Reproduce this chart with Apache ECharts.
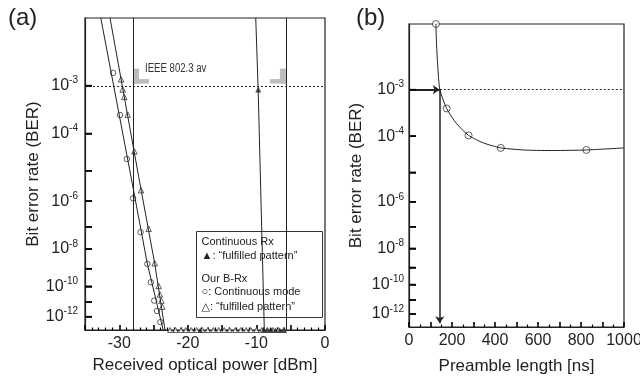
<!DOCTYPE html>
<html>
<head>
<meta charset="utf-8">
<script src="https://cdn.jsdelivr.net/npm/echarts@6/dist/echarts.min.js"></script>
<style>
  html, body { margin: 0; padding: 0; background: #fff; }
  #chart { width: 640px; height: 378px; }
</style>
</head>
<body>
<div id="chart"></div>
<script>
// BER values are kept as log10(BER); error-free points sit on the 1e-13 floor

// (a) our B-Rx, continuous mode (circles)
const contModeDbm = [-30.9, -29.9, -28.9, -28.0, -26.9, -25.9, -25.4, -24.9, -24.5, -24.0];
const contModeLogBer = [-2.78, -3.58, -4.66, -5.90, -7.23, -8.75, -9.76, -10.9, -11.6, -12.4];
const contModeFitDbm = [-32.7, -28.2, -25.9, -23.6];
const contModeFitLogBer = [-2, -5.29, -8.75, -13];

// (a) our B-Rx, "fulfilled pattern" (open triangles)
const fulfilledDbm = [-29.75, -29.5, -29.27, -28.77, -27.8, -26.83, -25.72, -24.84, -24.26, -24.07, -23.87, -23.73];
const fulfilledLogBer = [-2.89, -3.07, -3.21, -3.57, -4.45, -5.62, -7.08, -8.71, -9.98, -10.5, -10.9, -11.3];
const fulfilledFitDbm = [-31.35, -27.08, -24.84, -23.33];
const fulfilledFitLogBer = [-2, -5.29, -8.71, -13];

// (a) continuous Rx, "fulfilled pattern" (filled triangles)
const contRxDbm = [-9.73];
const contRxLogBer = [-3.07];
const contRxFitDbm = [-10.1, -9.75, -8.85];
const contRxFitLogBer = [-2, -3.07, -13];

// (a) error free points
const errorFreeOpenDbm = [-22.6, -21.8, -21.0, -20.3, -19.5, -18.7, -17.9, -17.1, -16.3, -15.5, -14.7,
  -13.9, -13.1, -12.3, -11.5, -10.8, -10.0, -9.2, -8.4, -7.6, -6.8, -6.0];
const errorFreeFilledDbm = [-18.2, -9.0, -8.4, -7.8, -7.2, -6.6, -6.0];
const floorLogBer = -13;

// IEEE 802.3av limits
const ieeeLimitDbm = [-28, -5.7];
const berLimitLog = -3;

// (b) BER vs preamble length
const preambleNs = [125, 175, 277, 427, 825];
const preambleLogBer = [-2.0, -3.37, -3.98, -4.30, -4.355];
const preambleFitNs = [125, 128, 134, 143.5, 175, 221, 277, 346, 427, 549, 673, 826, 1000];
const preambleFitLogBer = [-2.0, -2.26, -2.61, -3.0, -3.37, -3.70, -3.98, -4.17, -4.30, -4.36, -4.37, -4.355, -4.30];
const requiredPreambleNs = 143;

// axis ranges and ticks
const xRangeA = [-35, 0];
const xRangeB = [0, 1000];
const yTickExp = [3, 4, 5, 6, 7, 8, 9, 10, 11, 12];
const yLabelExp = [3, 4, 6, 8, 10, 12];
const xLabelsA = [-30, -20, -10, 0];
const xTicksA = [-35, -30, -25, -20, -15, -10, -5, 0];
const xLabelsB = [0, 200, 400, 600, 800, 1000];

const FONT = '"Liberation Sans", Arial, "DejaVu Sans", sans-serif';
const INK = '#222';

// BER plot scale: log10(-log10(BER))
const yv = v => Math.log10(-v);
const pairs = (xs, ys) => xs.map((x, i) => [x, yv(ys[i])]);

const makeYAxis = (gridIndex, margin, gap) => ({
  type: 'value',
  gridIndex: gridIndex,
  inverse: true,
  min: Math.log10(2),
  max: Math.log10(13),
  name: 'Bit error rate (BER)',
  nameLocation: 'middle',
  nameGap: gap,
  nameTextStyle: {fontSize: 17, fontFamily: FONT, color: INK},
  axisLine: {show: true, onZero: false, lineStyle: {color: INK, width: 1.2}},
  axisTick: {show: true, inside: true, length: 7, lineStyle: {color: '#000', width: 1.5},
    customValues: yTickExp.map(n => Math.log10(n))},
  axisLabel: {
    margin: margin,
    customValues: yLabelExp.map(n => Math.log10(n)),
    formatter: v => '{b|10}{s|-' + Math.round(Math.pow(10, v)) + '}',
    rich: {
      b: {fontSize: 16, lineHeight: 20, fontFamily: FONT, color: INK},
      s: {fontSize: 10, lineHeight: 10, padding: [0, 0, 10, 0], fontFamily: FONT, color: INK}
    }
  },
  splitLine: {show: false}
});

// inward y ticks drawn again through the axis scale, on top of the frame
const yTickSeries = (gridIndex, xMin) => ({
  type: 'custom', xAxisIndex: gridIndex, yAxisIndex: gridIndex, clip: false, silent: true,
  data: yTickExp.map(n => [xMin, yv(-n)]),
  renderItem: (params, api) => {
    let p = api.coord([api.value(0), api.value(1)]);
    return {type: 'line', shape: {x1: p[0], y1: p[1], x2: p[0] + 7, y2: p[1]},
      style: {stroke: '#000', lineWidth: 1.5}};
  },
  z: 10
});

const markerStyle = {color: '#fff', borderColor: INK, borderWidth: 0.9};
const lineStyle = {color: INK, width: 1};

let chart = echarts.init(document.getElementById('chart'), null, {renderer: 'canvas'});
let option = {
  animation: false,
  backgroundColor: '#fff',
  grid: [
    {left: 85, top: 18, width: 240, height: 312, show: true, borderColor: INK, borderWidth: 1.2, outerBoundsMode: 'none'},
    {left: 409, top: 24, width: 215, height: 303, show: true, borderColor: INK, borderWidth: 1.2, outerBoundsMode: 'none'}
  ],
  xAxis: [
    {
      type: 'value', gridIndex: 0, min: xRangeA[0], max: xRangeA[1], interval: 5,
      name: 'Received optical power [dBm]', nameLocation: 'middle', nameGap: 27,
      nameTextStyle: {fontSize: 17, fontFamily: FONT, color: INK},
      axisLine: {show: true, onZero: false, lineStyle: {color: INK, width: 1.2}},
      axisTick: {show: true, inside: true, length: 5, lineStyle: {color: '#000', width: 1.6}, customValues: xTicksA},
      minorTick: {show: true, splitNumber: 5, length: 2.5, lineStyle: {color: '#000', width: 1.2}},
      axisLabel: {margin: 6, fontSize: 16, fontFamily: FONT, color: INK, customValues: xLabelsA,
        formatter: v => String(v)},
      splitLine: {show: false}
    },
    {
      type: 'value', gridIndex: 1, min: xRangeB[0], max: xRangeB[1], interval: 100,
      name: 'Preamble length [ns]', nameLocation: 'middle', nameGap: 31,
      nameTextStyle: {fontSize: 17, fontFamily: FONT, color: INK},
      axisLine: {show: true, onZero: false, lineStyle: {color: INK, width: 1.2}},
      axisTick: {show: true, inside: true, length: 5, lineStyle: {color: '#000', width: 1.6}},
      minorTick: {show: true, splitNumber: 2, length: 2.5, lineStyle: {color: '#000', width: 1.2}},
      axisLabel: {margin: 6, fontSize: 16, fontFamily: FONT, color: INK, customValues: xLabelsB,
        formatter: v => String(v)},
      splitLine: {show: false}
    }
  ],
  yAxis: [makeYAxis(0, 7, 42), makeYAxis(1, 5, 44)],
  series: [
    // ---- (a) ----
    {
      type: 'line', xAxisIndex: 0, yAxisIndex: 0, showSymbol: false, symbol: 'none',
      data: pairs(contModeFitDbm, contModeFitLogBer), lineStyle: lineStyle,
      markLine: {
        silent: true, symbol: 'none', label: {show: false},
        data: [
          ...ieeeLimitDbm.map(x => ({xAxis: x, lineStyle: {color: INK, width: 1, type: 'solid'}})),
          {yAxis: yv(berLimitLog), lineStyle: {color: INK, width: 1, type: [2, 2]}}
        ]
      }
    },
    {type: 'line', xAxisIndex: 0, yAxisIndex: 0, showSymbol: false, symbol: 'none',
      data: pairs(fulfilledFitDbm, fulfilledFitLogBer), lineStyle: lineStyle},
    {type: 'line', xAxisIndex: 0, yAxisIndex: 0, showSymbol: false, symbol: 'none',
      data: pairs(contRxFitDbm, contRxFitLogBer), lineStyle: lineStyle},
    {type: 'scatter', xAxisIndex: 0, yAxisIndex: 0, symbol: 'circle', symbolSize: 5.5,
      data: pairs(contModeDbm, contModeLogBer), itemStyle: markerStyle},
    {type: 'scatter', xAxisIndex: 0, yAxisIndex: 0, symbol: 'triangle', symbolSize: 5.5,
      data: pairs(fulfilledDbm, fulfilledLogBer), itemStyle: markerStyle},
    {type: 'scatter', xAxisIndex: 0, yAxisIndex: 0, symbol: 'triangle', symbolSize: 5, clip: false,
      data: errorFreeOpenDbm.map(x => [x, yv(floorLogBer)]), itemStyle: markerStyle},
    {type: 'scatter', xAxisIndex: 0, yAxisIndex: 0, symbol: 'triangle', symbolSize: 5, clip: false,
      data: errorFreeFilledDbm.map(x => [x, yv(floorLogBer)]), itemStyle: {color: INK}},
    {type: 'scatter', xAxisIndex: 0, yAxisIndex: 0, symbol: 'triangle', symbolSize: 6,
      data: pairs(contRxDbm, contRxLogBer), itemStyle: {color: INK}},
    {
      // IEEE 802.3av sensitivity marks
      type: 'custom', xAxisIndex: 0, yAxisIndex: 0,
      data: ieeeLimitDbm.map((x, i) => [x, yv(berLimitLog), i === 0 ? 1 : -1]),
      renderItem: (params, api) => {
        let p = api.coord([api.value(0), api.value(1)]);
        let d = api.value(2);
        let bx = d > 0 ? p[0] : p[0] - 6;
        let fx = d > 0 ? p[0] : p[0] - 16;
        return {type: 'group', children: [
          {type: 'rect', shape: {x: bx, y: p[1] - 17, width: 6, height: 15}, style: {fill: '#bdbdbd'}},
          {type: 'rect', shape: {x: fx, y: p[1] - 6.5, width: 16, height: 4.5}, style: {fill: '#bdbdbd'}}
        ]};
      },
      z: 1
    },
    yTickSeries(0, xRangeA[0]),
    // ---- (b) ----
    {
      type: 'line', xAxisIndex: 1, yAxisIndex: 1, showSymbol: false, symbol: 'none', smooth: 0.2,
      data: pairs(preambleFitNs, preambleFitLogBer), lineStyle: lineStyle,
      markLine: {
        silent: true, label: {show: false}, symbol: 'none',
        data: [
          [{coord: [0, yv(berLimitLog)], symbol: 'none'},
           {coord: [requiredPreambleNs, yv(berLimitLog)], symbol: 'arrow', symbolSize: 7,
             lineStyle: {color: INK, width: 2, type: 'solid'}}],
          [{coord: [requiredPreambleNs, yv(berLimitLog)], symbol: 'none'},
           {coord: [requiredPreambleNs, yv(-12.7)], symbol: 'arrow', symbolSize: 7,
             lineStyle: {color: INK, width: 1.5, type: 'solid'}}],
          [{coord: [requiredPreambleNs, yv(berLimitLog)], symbol: 'none'},
           {coord: [1000, yv(berLimitLog)], symbol: 'none',
             lineStyle: {color: INK, width: 1, type: [2, 2]}}]
        ]
      }
    },
    {type: 'scatter', xAxisIndex: 1, yAxisIndex: 1, symbol: 'circle', symbolSize: 7, clip: false,
      data: pairs(preambleNs, preambleLogBer), itemStyle: markerStyle},
    yTickSeries(1, xRangeB[0])
  ],
  graphic: [
    {type: 'text', left: 8, top: 6, style: {text: '(a)', fontSize: 24, fontFamily: FONT, fill: INK}},
    {type: 'text', left: 356, top: 6, style: {text: '(b)', fontSize: 24, fontFamily: FONT, fill: INK}},
    {type: 'text', x: 145, y: 63, scaleX: 0.8,
      style: {text: 'IEEE 802.3 av', fontSize: 12, fontFamily: FONT, fill: '#333', verticalAlign: 'top'}},
    {
      type: 'group', left: 196, top: 231, z: 100,
      children: [
        {type: 'rect', shape: {x: 0, y: 0, width: 126, height: 86}, style: {fill: '#fff', stroke: '#333', lineWidth: 1}},
        {type: 'text', x: 5, y: 5, style: {text: 'Continuous Rx', fontSize: 11, fontFamily: FONT, fill: INK}},
        {type: 'text', x: 5, y: 19, style: {text: '▲: “fulfilled pattern”', fontSize: 11, fontFamily: FONT, fill: INK}},
        {type: 'text', x: 5, y: 42, style: {text: 'Our B-Rx', fontSize: 11, fontFamily: FONT, fill: INK}},
        {type: 'text', x: 5, y: 55, style: {text: '○: Continuous mode', fontSize: 11, fontFamily: FONT, fill: INK}},
        {type: 'text', x: 5, y: 70, style: {text: '△: “fulfilled pattern”', fontSize: 11, fontFamily: FONT, fill: INK}}
      ]
    }
  ]
};
chart.setOption(option);
</script>
</body>
</html>
